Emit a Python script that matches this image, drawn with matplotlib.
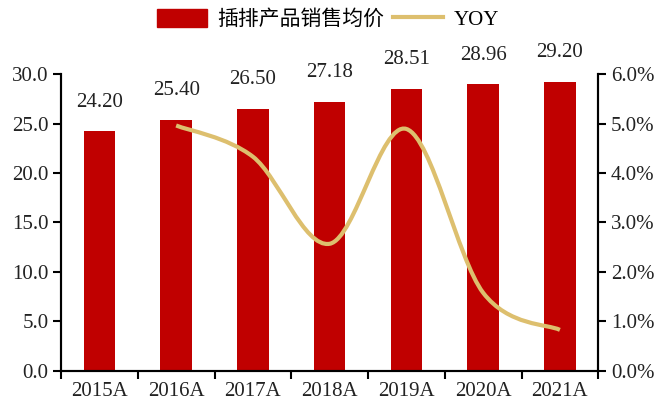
import numpy as np
import matplotlib
matplotlib.use("Agg")
import matplotlib.pyplot as plt
from matplotlib.path import Path
from matplotlib.patches import PathPatch, Patch
from matplotlib.lines import Line2D

# 数据
years = ["2015A", "2016A", "2017A", "2018A", "2019A", "2020A", "2021A"]
price = [24.20, 25.40, 26.50, 27.18, 28.51, 28.96, 29.20]
yoy = [4.96, 4.33, 2.57, 4.89, 1.58, 0.83]   # % , 2016A 起
yoy_years = years[1:]

bar_c = "#C00000"
line_c = "#DDBF6E"
serif = ["Liberation Serif", "Noto Sans CJK SC"]
fs = 15

plt.rcParams['font.family'] = serif

fig = plt.figure(figsize=(6.56, 4.09), dpi=100)
ax = fig.add_axes([0.093, 0.093, 0.819, 0.726])
ax2 = ax.twinx()

x = np.arange(len(years))
ax.bar(x, price, width=0.41, color=bar_c, zorder=2)
for xi, v in zip(x, price):
    ax.annotate("%.2f" % v, (xi, v), xytext=(0, 21), textcoords="offset points",
                ha="center", va="center", fontsize=fs, color="#222222")

ax.set_xlim(-0.5, len(years) - 0.5)
ax.set_ylim(0, 30)
ax.set_yticks(np.arange(0, 31, 5))
ax.set_yticklabels(["%.1f" % t for t in np.arange(0, 31, 5)])
ax.set_xticks(np.arange(-0.5, len(years), 1))
ax.set_xticklabels([])
ax.set_xticks(x, minor=True)
ax.set_xticklabels(years, minor=True)
ax.tick_params(axis="x", which="minor", length=0, pad=8, labelsize=fs, labelcolor="#222222")
ax.tick_params(axis="x", which="major", length=6, width=1.5, direction="out")
ax.tick_params(axis="y", length=6, width=1.5, labelsize=fs, pad=3, labelcolor="#222222")

# 平滑曲线 (Catmull-Rom -> Bezier)
px = np.array([years.index(y) for y in yoy_years], dtype=float)
py = np.array(yoy, dtype=float)
pts = np.column_stack([px, py])
verts = [pts[0]]
codes = [Path.MOVETO]
n = len(pts)
for i in range(n - 1):
    p0 = pts[i - 1] if i > 0 else pts[i]
    p1 = pts[i]
    p2 = pts[i + 1]
    p3 = pts[i + 2] if i + 2 < n else pts[i + 1]
    c1 = p1 + (p2 - p0) / 6.0
    c2 = p2 - (p3 - p1) / 6.0
    verts += [c1, c2, p2]
    codes += [Path.CURVE4] * 3
ax2.add_patch(PathPatch(Path(verts, codes), fill=False, edgecolor=line_c,
                        lw=3, zorder=3))
ax2.set_ylim(0, 6)
ax2.set_yticks(np.arange(0, 6.1, 1))
ax2.set_yticklabels(["%.1f%%" % t for t in np.arange(0, 6.1, 1)])
ax2.tick_params(axis="y", length=6, width=1.5, labelsize=fs, pad=3, labelcolor="#222222")

for a in (ax, ax2):
    a.spines["top"].set_visible(False)
    for s in ("left", "right", "bottom"):
        a.spines[s].set_linewidth(1.5)
        a.spines[s].set_color("black")

handles = [Patch(color=bar_c), Line2D([0], [0], color=line_c, lw=3)]
fig.legend(handles, ["插排产品销售均价", "YOY"], loc="center", bbox_to_anchor=(0.5, 0.952),
           ncol=2, frameon=False, prop={"family": serif, "size": fs},
           handlelength=2.4, handleheight=0.9, columnspacing=0.4, handletextpad=0.5)

fig.savefig("out.png", dpi=100)
